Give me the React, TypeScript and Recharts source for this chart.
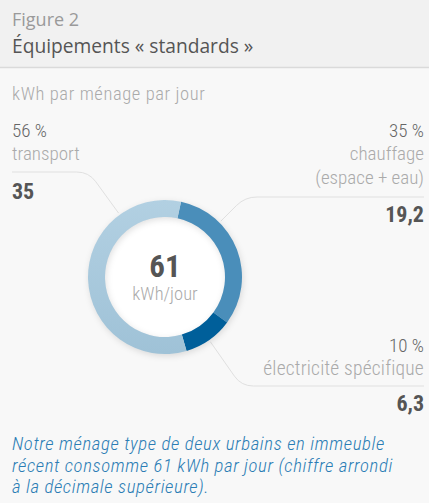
import { Cell, Pie, PieChart } from 'recharts'

// kWh par ménage par jour, dans l'ordre horaire à partir du haut
const categories = ['chauffage', 'électricité spécifique', 'transport']
const values = [19.2, 6.3, 35]
const valueLabels = ['19,2', '6,3', '35']
const percentLabels = ['35 %', '10 %', '56 %']
const totalLabel = '61'

const COLORS = ['#4a8eba', '#005f9a', 'url(#transportGrad)']

const W = 429
const H = 503
const CX = 165
const CY = 277
const R_IN = 60
const R_OUT = 77

const COND = "'Roboto Condensed', 'Liberation Sans Narrow', 'DejaVu Sans Condensed', Roboto, sans-serif"
const SANS = "'Open Sans', 'Noto Sans', sans-serif"

// leader line: radial from the ring at angle (deg clockwise from top) up to y, then horizontal to xEnd
function leader(angle: number, y: number, xEnd: number) {
  const a = (angle * Math.PI) / 180
  const dx = Math.sin(a)
  const dy = -Math.cos(a)
  const r0 = R_OUT + 2
  const x0 = CX + dx * r0
  const y0 = CY + dy * r0
  const t = (y - CY) / dy
  const xc = CX + dx * t
  const k = 12
  const tb = t - k
  const xb = CX + dx * tb
  const yb = CY + dy * tb
  const dir = xEnd > xc ? 1 : -1
  return `M${x0},${y0} L${xb},${yb} Q${xc},${y} ${xc + dir * k},${y} L${xEnd},${y}`
}

export default function App() {
  const data = categories.map((name, i) => ({ name, value: values[i] }))
  const small = { fontFamily: COND, fontWeight: 300 as const }
  return (
    <div style={{ position: 'relative', width: W, height: H, background: '#f8f8f8', overflow: 'hidden' }}>
      <style>{'body{margin:0}'}</style>
      <svg width={W} height={H} style={{ position: 'absolute', left: 0, top: 0 }}>
        <defs>
          <linearGradient id="transportGrad" x1="0" y1="0" x2="0" y2="1">
            <stop offset="0%" stopColor="#b2d0e2" />
            <stop offset="100%" stopColor="#9fc2d7" />
          </linearGradient>
        </defs>
        <rect x={0} y={0} width={W} height={67} fill="#f1f1f1" />
        <line x1={0} x2={W} y1={67.5} y2={67.5} stroke="#dadada" strokeWidth={1.5} />
        <text x={12} y={26} fontFamily={SANS} fontSize={18} fill="#9a9a9a">Figure 2</text>
        <text x={12} y={53} fontFamily={SANS} fontSize={19.2} fill="#555">Équipements « standards »</text>
        <text x={12} y={100} {...small} fontSize={18.5} letterSpacing={0.6} fill="#aaa">kWh par ménage par jour</text>

        <path d={leader(324, 172, 12)} fill="none" stroke="#e0e0e0" strokeWidth={1} />
        <path d={leader(45, 197, 424)} fill="none" stroke="#e0e0e0" strokeWidth={1} />
        <path d={leader(145, 386, 424)} fill="none" stroke="#e0e0e0" strokeWidth={1} />

        {/* transport */}
        <text x={12} y={137} {...small} fontSize={19} fill="#666">{percentLabels[2]}</text>
        <text x={12} y={160} {...small} fontSize={19} fill="#aaa">{categories[2]}</text>
        <text x={12} y={199} fontFamily={COND} fontWeight={700} fontSize={22} fill="#555">{valueLabels[2]}</text>

        {/* chauffage */}
        <text x={424} y={137} textAnchor="end" {...small} fontSize={19} fill="#666">{percentLabels[0]}</text>
        <text x={424} y={160} textAnchor="end" {...small} fontSize={19} fill="#aaa">{categories[0]}</text>
        <text x={424} y={184} textAnchor="end" {...small} fontSize={19} fill="#aaa">(espace + eau)</text>
        <text x={424} y={222} textAnchor="end" fontFamily={COND} fontWeight={700} fontSize={22} fill="#555">{valueLabels[0]}</text>

        {/* électricité */}
        <text x={424} y={352} textAnchor="end" {...small} fontSize={19} fill="#666">{percentLabels[1]}</text>
        <text x={424} y={375} textAnchor="end" {...small} fontSize={19.5} letterSpacing={0.2} fill="#aaa">{categories[1]}</text>
        <text x={424} y={411} textAnchor="end" fontFamily={COND} fontWeight={700} fontSize={22} fill="#555">{valueLabels[1]}</text>

        <circle cx={CX} cy={CY} r={R_IN} fill="#fff" />
        <text x={CX} y={277} textAnchor="middle" fontFamily={COND} fontWeight={700} fontSize={31} fill="#555">{totalLabel}</text>
        <text x={CX} y={300} textAnchor="middle" {...small} fontSize={18.5} fill="#aaa">kWh/jour</text>

        <g fontFamily={COND} fontWeight={300} fontStyle="italic" fontSize={18.8} letterSpacing={0.6} fill="#2b7db5">
          <text x={12} y={450}>Notre ménage type de deux urbains en immeuble</text>
          <text x={12} y={472}>récent consomme 61 kWh par jour (chiffre arrondi</text>
          <text x={12} y={493}>à la décimale supérieure).</text>
        </g>
      </svg>
      <div style={{ position: 'absolute', left: 0, top: 0, filter: 'drop-shadow(1px 2px 3px rgba(0,0,0,0.12))' }}>
        <PieChart width={W} height={H} margin={{ top: 0, right: 0, bottom: 0, left: 0 }}>
          <Pie
            data={data}
            dataKey="value"
            nameKey="name"
            cx={CX}
            cy={CY}
            innerRadius={R_IN}
            outerRadius={R_OUT}
            startAngle={78}
            endAngle={-282}
            stroke="none"
            isAnimationActive={false}
          >
            {data.map((d, i) => (
              <Cell key={d.name} fill={COLORS[i]} />
            ))}
          </Pie>
        </PieChart>
      </div>
    </div>
  )
}
